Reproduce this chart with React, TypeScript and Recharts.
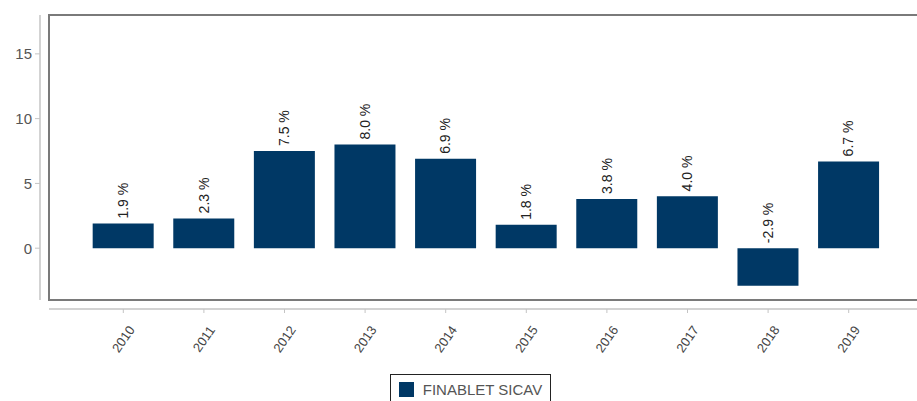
import React from 'react';
import { BarChart, Bar, XAxis, YAxis, ReferenceArea, LabelList, Legend } from 'recharts';

const years = ['2010', '2011', '2012', '2013', '2014', '2015', '2016', '2017', '2018', '2019'];
const returns = [1.9, 2.3, 7.5, 8.0, 6.9, 1.8, 3.8, 4.0, -2.9, 6.7];
const yTicks = [0, 5, 10, 15];
const seriesName = 'FINABLET SICAV';

const data = years.map((year, i) => ({ year, value: returns[i] }));

const FONT = "Arial, 'Liberation Sans', sans-serif";
const NAVY = '#003865';

const XTick = (props: any) => {
    const { x, y, payload } = props;
    const cy = y + 24;
    return (
        <text
            x={x}
            y={cy}
            textAnchor="middle"
            dominantBaseline="central"
            transform={`rotate(-55, ${x}, ${cy})`}
            fontSize={13}
            fontFamily={FONT}
            fill="#444"
        >
            {payload.value}
        </text>
    );
};

const BarLabel = (props: any) => {
    const { x, y, width, height, value } = props;
    const cx = x + width / 2;
    const top = Math.min(y, y + height) - 5;
    return (
        <text
            x={cx}
            y={top}
            dy="0.35em"
            textAnchor="start"
            transform={`rotate(-90, ${cx}, ${top})`}
            fontSize={14}
            fontFamily={FONT}
            fill="#222"
        >
            {`${Number(value).toFixed(1)} %`}
        </text>
    );
};

const LegendBox = () => (
    <div style={{ height: 34, display: 'flex', justifyContent: 'center', alignItems: 'flex-start' }}>
        <div
            style={{
                border: '1.5px solid #222',
                height: 30,
                padding: '0 8px',
                display: 'flex',
                alignItems: 'center',
                fontFamily: FONT,
                fontSize: 15,
                color: '#555',
                boxSizing: 'border-box',
            }}
        >
            <span style={{ width: 15, height: 15, background: NAVY, display: 'inline-block', marginRight: 9 }} />
            {seriesName}
        </div>
    </div>
);

export default function App() {
    return (
        <div style={{ position: 'absolute', left: 0, top: 0, width: 917, height: 401, overflow: 'hidden', background: '#fff' }}>
            <BarChart
                width={937}
                height={408}
                data={data}
                margin={{ top: 15, right: 14, bottom: 0, left: 0 }}
                barCategoryGap="12%"
            >
                {/* unpadded spacer axis: keeps the offset gap and spans the full plot for the frame */}
                <XAxis xAxisId="gap" dataKey="year" height={9} tick={false} axisLine={false} tickLine={false} />
                <XAxis
                    xAxisId="main"
                    dataKey="year"
                    height={65}
                    tick={<XTick />}
                    tickSize={4}
                    interval={0}
                    axisLine={{ stroke: '#c4c4c4', strokeWidth: 1.5 }}
                    tickLine={{ stroke: '#c4c4c4' }}
                    padding={{ left: 34, right: 34 }}
                />
                <YAxis yAxisId="gap" width={9} domain={[-4, 18]} tick={false} axisLine={false} tickLine={false} />
                <YAxis
                    yAxisId="main"
                    width={40}
                    domain={[-4, 18]}
                    ticks={yTicks}
                    tickSize={5}
                    tickMargin={3}
                    tick={{ fill: '#555', fontSize: 15, fontFamily: FONT }}
                    axisLine={{ stroke: '#c4c4c4', strokeWidth: 1.5 }}
                    tickLine={{ stroke: '#c4c4c4' }}
                />
                <ReferenceArea xAxisId="gap" yAxisId="main" y1={-4} y2={18} fill="none" stroke="#7a7a7a" strokeWidth={2} ifOverflow="visible" />
                <Bar xAxisId="main" yAxisId="main" dataKey="value" name={seriesName} fill={NAVY} isAnimationActive={false}>
                    <LabelList dataKey="value" content={<BarLabel />} />
                </Bar>
                <Legend verticalAlign="bottom" content={<LegendBox />} wrapperStyle={{ left: 0, width: 941 }} />
            </BarChart>
        </div>
    );
}
